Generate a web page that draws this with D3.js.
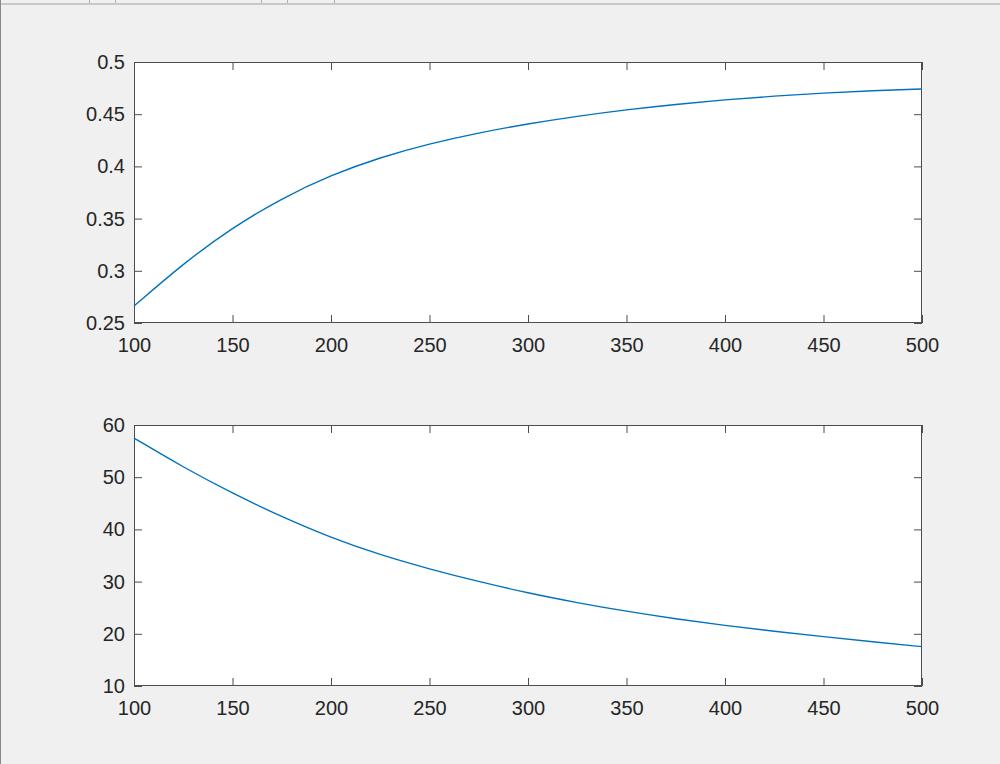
<!DOCTYPE html>
<html>
<head>
<meta charset="utf-8">
<script src="https://cdn.jsdelivr.net/npm/d3@7"></script>
<style>
  html, body { margin: 0; padding: 0; background: #f0f0f0; }
  svg { display: block; }
  text { font-family: "Liberation Sans", Arial, Helvetica, sans-serif; }
</style>
</head>
<body>
<svg id="chart" width="1000" height="764"></svg>
<script>
// ---- data ----
const xValues = [100, 125, 150, 175, 200, 225, 250, 275, 300, 325, 350, 375, 400, 425, 450, 475, 500];
const topValues = [0.2662, 0.3070, 0.3414, 0.3695, 0.3917, 0.4087, 0.4218, 0.4322, 0.4408,
                   0.4481, 0.4543, 0.4595, 0.4638, 0.4674, 0.4703, 0.4726, 0.4742];
const bottomValues = [57.5, 51.9, 46.9, 42.4, 38.4, 35.1, 32.4, 30.0, 27.8,
                      25.95, 24.3, 22.85, 21.6, 20.48, 19.44, 18.46, 17.54];
const xTicks = [100, 150, 200, 250, 300, 350, 400, 450, 500];
const topYTicks = [0.25, 0.3, 0.35, 0.4, 0.45, 0.5];
const topYLabels = ["0.25", "0.3", "0.35", "0.4", "0.45", "0.5"];
const bottomYTicks = [10, 20, 30, 40, 50, 60];
const bottomYLabels = ["10", "20", "30", "40", "50", "60"];

const svg = d3.select("#chart");
const W = 1000, H = 764;

// window frame bits
svg.append("rect").attr("x", 0).attr("y", 0).attr("width", W).attr("height", H).attr("fill", "#f0f0f0");
svg.append("rect").attr("x", 0).attr("y", 3).attr("width", W).attr("height", 2).attr("fill", "#c8c8c8");
svg.append("rect").attr("x", 0).attr("y", 0).attr("width", 1).attr("height", H).attr("fill", "#8a8a8a");
[89, 115, 261, 287, 334].forEach(x => {
  svg.append("rect").attr("x", x).attr("y", 0).attr("width", 1).attr("height", 3).attr("fill", "#b0b0b0");
});

const lineColor = "#0072BD";
const axisColor = "#262626";
const axisLine = "#4d4d4d";

function panel(top, bottom, yDomain, yTicks, yLabels, values) {
  const left = 134, right = 922;
  const x = d3.scaleLinear().domain([100, 500]).range([left, right]);
  const y = d3.scaleLinear().domain(yDomain).range([bottom, top]);
  const g = svg.append("g");

  g.append("rect").attr("x", left).attr("y", top)
    .attr("width", right - left).attr("height", bottom - top).attr("fill", "#ffffff");

  const tl = 8;
  const xb = d3.axisBottom(x).tickValues(xTicks).tickSize(-tl).tickPadding(15).tickFormat(d3.format("d"));
  const gxb = g.append("g").attr("transform", `translate(0,${bottom})`).call(xb);
  const xt = d3.axisTop(x).tickValues(xTicks).tickSize(-tl).tickFormat("");
  const gxt = g.append("g").attr("transform", `translate(0,${top})`).call(xt);
  const yl = d3.axisLeft(y).tickValues(yTicks).tickSize(-tl).tickPadding(9)
    .tickFormat((d, i) => yLabels[i]);
  const gyl = g.append("g").attr("transform", `translate(${left},0)`).call(yl);
  const yr = d3.axisRight(y).tickValues(yTicks).tickSize(-tl).tickFormat("");
  const gyr = g.append("g").attr("transform", `translate(${right},0)`).call(yr);

  [gxb, gxt, gyl, gyr].forEach(a => {
    a.select(".domain").remove();
    a.selectAll(".tick line").attr("stroke", axisLine).attr("stroke-width", 1);
    a.selectAll(".tick text").attr("fill", axisColor).style("font-size", "20px")
      .style("font-family", "'Liberation Sans', Arial, sans-serif");
  });

  g.append("rect").attr("x", left + 0.5).attr("y", top + 0.5)
    .attr("width", right - left - 1).attr("height", bottom - top - 1)
    .attr("fill", "none").attr("stroke", axisLine).attr("stroke-width", 1);

  const line = d3.line().x((d, i) => x(xValues[i])).y(d => y(d)).curve(d3.curveBasis);
  g.append("path").datum(values).attr("d", line)
    .attr("fill", "none").attr("stroke", lineColor).attr("stroke-width", 1.4);
}

panel(62, 323, [0.25, 0.5], topYTicks, topYLabels, topValues);
panel(425, 686, [10, 60], bottomYTicks, bottomYLabels, bottomValues);
</script>
</body>
</html>
